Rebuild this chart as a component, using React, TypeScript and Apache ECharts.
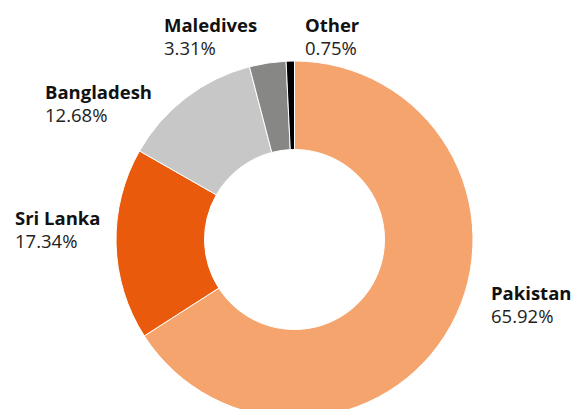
import React, { useEffect, useRef } from "react";
import * as echarts from "echarts";

const categories = ["Pakistan", "Sri Lanka", "Bangladesh", "Maledives", "Other"];
const shares = [65.92, 17.34, 12.68, 3.31, 0.75];
const colors = ["#F4A46C", "#E95A0C", "#C6C7C6", "#878786", "#000000"];
// label anchor points (left x, vertical middle y)
const labelAnchors: [number, number][] = [
  [491, 304],
  [15, 229],
  [45, 103],
  [164, 36],
  [305, 36],
];

export default function App() {
  const ref = useRef<HTMLDivElement>(null);
  useEffect(() => {
    if (!ref.current) return;
    const chart = echarts.init(ref.current, undefined, { renderer: "svg" });
    chart.setOption({
      animation: false,
      backgroundColor: "#ffffff",
      series: [
        {
          type: "pie",
          center: [294.5, 239.5],
          radius: [90, 178.5],
          startAngle: 90,
          clockwise: true,
          avoidLabelOverlap: false,
          itemStyle: { borderColor: "#ffffff", borderWidth: 1 },
          label: {
            show: true,
            position: "outside",
            fontFamily: "Open Sans",
            formatter: (p: any) => `{n|${p.name}}\n{v|${p.value.toFixed(2)}%}`,
            rich: {
              n: { fontFamily: "Open Sans", fontWeight: "bold", fontSize: 18.5, lineHeight: 23, color: "#111111" },
              v: { fontFamily: "Open Sans", fontSize: 18.5, lineHeight: 23, color: "#222222" },
            },
          },
          labelLine: { show: false },
          labelLayout: (params: any) => {
            const a = labelAnchors[params.dataIndex];
            return { x: a[0], y: a[1], align: "left", verticalAlign: "middle" };
          },
          data: categories.map((c, i) => ({
            name: c,
            value: shares[i],
            itemStyle: { color: colors[i] },
          })),
        },
      ],
    });
    return () => chart.dispose();
  }, []);
  return (
    <div
      ref={ref}
      style={{ position: "fixed", left: 0, top: 0, width: 571, height: 409 }}
    />
  );
}
